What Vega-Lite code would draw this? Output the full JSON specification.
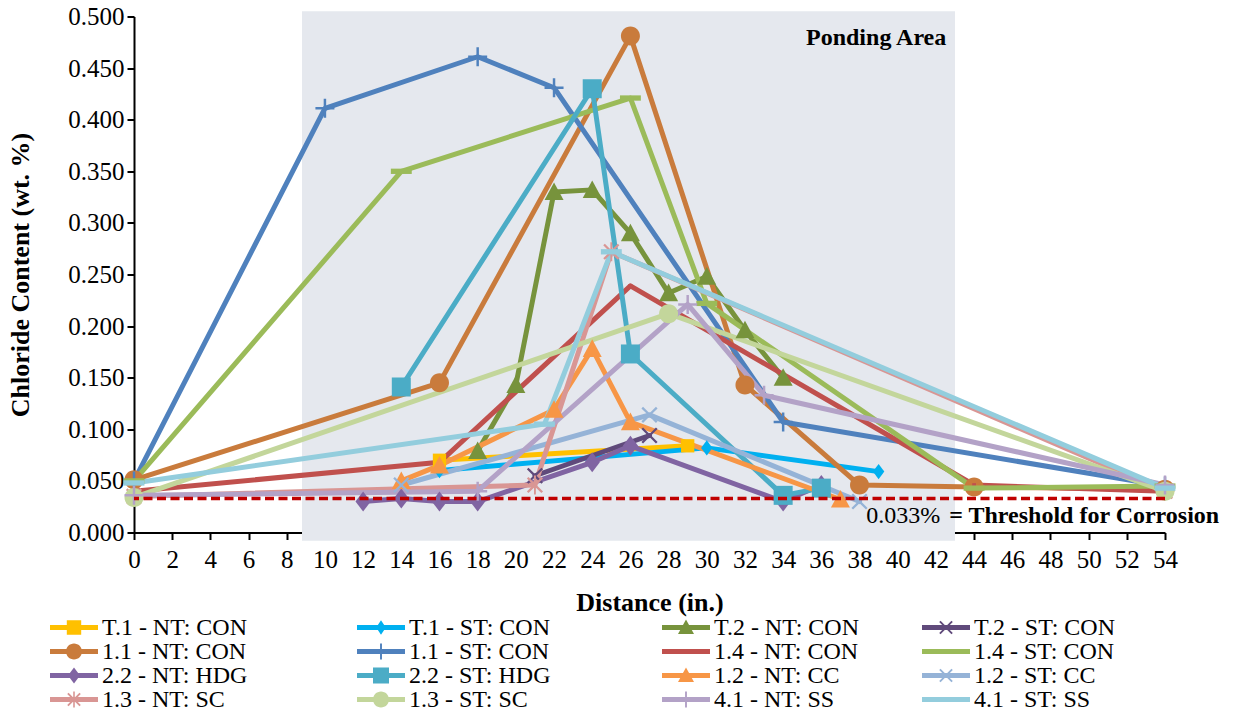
{
  "$schema": "https://vega.github.io/schema/vega-lite/v6.json",
  "width": 1031,
  "height": 516,
  "autosize": "none",
  "padding": {"left": 134, "top": 16.5, "right": 69, "bottom": 186.5},
  "background": "white",
  "config": {
    "font": "Liberation Serif",
    "view": {"stroke": null},
    "axis": {
      "grid": false,
      "domainColor": "#000000",
      "domainWidth": 2,
      "tickColor": "#000000",
      "tickWidth": 2,
      "tickSize": 7,
      "labelColor": "#000000",
      "labelFont": "Liberation Serif",
      "labelFontSize": 25,
      "labelFlush": false,
      "labelOverlap": false,
      "titleFont": "Liberation Serif",
      "titleFontSize": 26,
      "titleFontWeight": "bold",
      "titleColor": "#000000"
    },
    "axisX": {
      "title": "Distance (in.)",
      "values": [0, 2, 4, 6, 8, 10, 12, 14, 16, 18, 20, 22, 24, 26, 28, 30, 32, 34, 36, 38, 40, 42, 44, 46, 48, 50, 52, 54],
      "labelPadding": 8,
      "titleY": 70,
      "titleBaseline": "middle"
    },
    "axisY": {
      "values": [0, 0.05, 0.1, 0.15, 0.2, 0.25, 0.3, 0.35, 0.4, 0.45, 0.5],
      "format": ".3f",
      "labelPadding": 3,
      "titleX": -114,
      "titleBaseline": "middle"
    },
    "legend": {
      "labelFont": "Liberation Serif",
      "labelFontSize": 24,
      "labelColor": "#000000",
      "labelLimit": 0
    }
  },
  "datasets": {
    "chloride": [
      {"series": "T.1 - NT: CON", "distance": 16, "chloride": 0.070},
      {"series": "T.1 - NT: CON", "distance": 29, "chloride": 0.084},
      {"series": "T.1 - ST: CON", "distance": 16, "chloride": 0.060},
      {"series": "T.1 - ST: CON", "distance": 30, "chloride": 0.082},
      {"series": "T.1 - ST: CON", "distance": 39, "chloride": 0.059},
      {"series": "T.2 - NT: CON", "distance": 18, "chloride": 0.079},
      {"series": "T.2 - NT: CON", "distance": 20, "chloride": 0.143},
      {"series": "T.2 - NT: CON", "distance": 22, "chloride": 0.330},
      {"series": "T.2 - NT: CON", "distance": 24, "chloride": 0.332},
      {"series": "T.2 - NT: CON", "distance": 26, "chloride": 0.290},
      {"series": "T.2 - NT: CON", "distance": 28, "chloride": 0.232},
      {"series": "T.2 - NT: CON", "distance": 30, "chloride": 0.248},
      {"series": "T.2 - NT: CON", "distance": 32, "chloride": 0.196},
      {"series": "T.2 - NT: CON", "distance": 34, "chloride": 0.150},
      {"series": "T.2 - ST: CON", "distance": 21, "chloride": 0.055},
      {"series": "T.2 - ST: CON", "distance": 27, "chloride": 0.094},
      {"series": "1.1 - NT: CON", "distance": 0, "chloride": 0.051},
      {"series": "1.1 - NT: CON", "distance": 16, "chloride": 0.145},
      {"series": "1.1 - NT: CON", "distance": 26, "chloride": 0.481},
      {"series": "1.1 - NT: CON", "distance": 32, "chloride": 0.143},
      {"series": "1.1 - NT: CON", "distance": 38, "chloride": 0.046},
      {"series": "1.1 - NT: CON", "distance": 44, "chloride": 0.044},
      {"series": "1.1 - NT: CON", "distance": 54, "chloride": 0.042},
      {"series": "1.1 - ST: CON", "distance": 0, "chloride": 0.050},
      {"series": "1.1 - ST: CON", "distance": 10, "chloride": 0.411},
      {"series": "1.1 - ST: CON", "distance": 18, "chloride": 0.461},
      {"series": "1.1 - ST: CON", "distance": 22, "chloride": 0.431},
      {"series": "1.1 - ST: CON", "distance": 34, "chloride": 0.107},
      {"series": "1.1 - ST: CON", "distance": 54, "chloride": 0.045},
      {"series": "1.4 - NT: CON", "distance": 0, "chloride": 0.040},
      {"series": "1.4 - NT: CON", "distance": 16, "chloride": 0.068},
      {"series": "1.4 - NT: CON", "distance": 26, "chloride": 0.239},
      {"series": "1.4 - NT: CON", "distance": 44, "chloride": 0.046},
      {"series": "1.4 - NT: CON", "distance": 54, "chloride": 0.040},
      {"series": "1.4 - ST: CON", "distance": 0, "chloride": 0.050},
      {"series": "1.4 - ST: CON", "distance": 14, "chloride": 0.350},
      {"series": "1.4 - ST: CON", "distance": 26, "chloride": 0.421},
      {"series": "1.4 - ST: CON", "distance": 30, "chloride": 0.222},
      {"series": "1.4 - ST: CON", "distance": 44, "chloride": 0.043},
      {"series": "1.4 - ST: CON", "distance": 54, "chloride": 0.045},
      {"series": "2.2 - NT: HDG", "distance": 12, "chloride": 0.030},
      {"series": "2.2 - NT: HDG", "distance": 14, "chloride": 0.033},
      {"series": "2.2 - NT: HDG", "distance": 16, "chloride": 0.030},
      {"series": "2.2 - NT: HDG", "distance": 18, "chloride": 0.030},
      {"series": "2.2 - NT: HDG", "distance": 24, "chloride": 0.068},
      {"series": "2.2 - NT: HDG", "distance": 26, "chloride": 0.084},
      {"series": "2.2 - NT: HDG", "distance": 34, "chloride": 0.030},
      {"series": "2.2 - NT: HDG", "distance": 36, "chloride": 0.046},
      {"series": "2.2 - ST: HDG", "distance": 14, "chloride": 0.141},
      {"series": "2.2 - ST: HDG", "distance": 24, "chloride": 0.430},
      {"series": "2.2 - ST: HDG", "distance": 26, "chloride": 0.173},
      {"series": "2.2 - ST: HDG", "distance": 34, "chloride": 0.036},
      {"series": "2.2 - ST: HDG", "distance": 36, "chloride": 0.043},
      {"series": "1.2 - NT: CC", "distance": 14, "chloride": 0.050},
      {"series": "1.2 - NT: CC", "distance": 16, "chloride": 0.065},
      {"series": "1.2 - NT: CC", "distance": 22, "chloride": 0.119},
      {"series": "1.2 - NT: CC", "distance": 24, "chloride": 0.178},
      {"series": "1.2 - NT: CC", "distance": 26, "chloride": 0.107},
      {"series": "1.2 - NT: CC", "distance": 37, "chloride": 0.032},
      {"series": "1.2 - ST: CC", "distance": 14, "chloride": 0.046},
      {"series": "1.2 - ST: CC", "distance": 27, "chloride": 0.114},
      {"series": "1.2 - ST: CC", "distance": 38, "chloride": 0.030},
      {"series": "1.3 - NT: SC", "distance": 0, "chloride": 0.035},
      {"series": "1.3 - NT: SC", "distance": 21, "chloride": 0.046},
      {"series": "1.3 - NT: SC", "distance": 25, "chloride": 0.272},
      {"series": "1.3 - NT: SC", "distance": 54, "chloride": 0.040},
      {"series": "1.3 - ST: SC", "distance": 0, "chloride": 0.034},
      {"series": "1.3 - ST: SC", "distance": 28, "chloride": 0.212},
      {"series": "1.3 - ST: SC", "distance": 54, "chloride": 0.040},
      {"series": "4.1 - NT: SS", "distance": 0, "chloride": 0.036},
      {"series": "4.1 - NT: SS", "distance": 18, "chloride": 0.040},
      {"series": "4.1 - NT: SS", "distance": 29, "chloride": 0.221},
      {"series": "4.1 - NT: SS", "distance": 33, "chloride": 0.133},
      {"series": "4.1 - NT: SS", "distance": 54, "chloride": 0.046},
      {"series": "4.1 - ST: SS", "distance": 0, "chloride": 0.048},
      {"series": "4.1 - ST: SS", "distance": 21.5, "chloride": 0.105},
      {"series": "4.1 - ST: SS", "distance": 25, "chloride": 0.272},
      {"series": "4.1 - ST: SS", "distance": 54, "chloride": 0.043}
    ],
    "ponding": [
      {"distance": 8.8, "distance_end": 43.0, "chloride": -0.008, "chloride_top": 0.505}
    ],
    "threshold": [
      {"chloride": 0.033}
    ],
    "notes": [
      {"distance": 38.87, "chloride": 0.479, "note": "Ponding Area"}
    ]
  },
  "layer": [
    {
      "data": {"name": "ponding"},
      "mark": {"type": "rect", "color": "#E5E8EE"},
      "encoding": {
        "x": {"field": "distance", "type": "quantitative", "scale": {"domain": [0, 54], "nice": false}, "title": "Distance (in.)"},
        "x2": {"field": "distance_end"},
        "y": {"field": "chloride", "type": "quantitative", "scale": {"domain": [0, 0.5], "nice": false}, "title": "Chloride Content (wt. %)"},
        "y2": {"field": "chloride_top"}
      }
    },
    {
      "data": {"name": "chloride"},
      "mark": {"type": "line", "strokeWidth": 5, "strokeJoin": "round", "strokeCap": "round"},
      "encoding": {
        "x": {"field": "distance", "type": "quantitative", "scale": {"domain": [0, 54], "nice": false}, "title": "Distance (in.)"},
        "y": {"field": "chloride", "type": "quantitative", "scale": {"domain": [0, 0.5], "nice": false}, "title": "Chloride Content (wt. %)"},
        "color": {
          "field": "series", "type": "nominal",
          "scale": {
            "domain": ["T.1 - NT: CON", "T.1 - ST: CON", "T.2 - NT: CON", "T.2 - ST: CON", "1.1 - NT: CON", "1.1 - ST: CON", "1.4 - NT: CON", "1.4 - ST: CON", "2.2 - NT: HDG", "2.2 - ST: HDG", "1.2 - NT: CC", "1.2 - ST: CC", "1.3 - NT: SC", "1.3 - ST: SC", "4.1 - NT: SS", "4.1 - ST: SS"],
            "range": ["#FFC000", "#00B0F0", "#77933C", "#604A7B", "#C97B3C", "#4F81BD", "#C0504D", "#9BBB59", "#8064A2", "#4BACC6", "#F79646", "#95B3D7", "#D99694", "#C3D69B", "#B3A2C7", "#93CDDD"]
          },
          "legend": null
        }
      }
    },
    {
      "data": {"name": "chloride"},
      "mark": {"type": "point", "filled": true, "opacity": 1, "size": 361, "strokeWidth": 0},
      "encoding": {
        "x": {"field": "distance", "type": "quantitative", "scale": {"domain": [0, 54], "nice": false}, "title": "Distance (in.)"},
        "y": {"field": "chloride", "type": "quantitative", "scale": {"domain": [0, 0.5], "nice": false}, "title": "Chloride Content (wt. %)"},
        "color": {
          "field": "series", "type": "nominal",
          "scale": {
            "domain": ["T.1 - NT: CON", "T.1 - ST: CON", "T.2 - NT: CON", "T.2 - ST: CON", "1.1 - NT: CON", "1.1 - ST: CON", "1.4 - NT: CON", "1.4 - ST: CON", "2.2 - NT: HDG", "2.2 - ST: HDG", "1.2 - NT: CC", "1.2 - ST: CC", "1.3 - NT: SC", "1.3 - ST: SC", "4.1 - NT: SS", "4.1 - ST: SS"],
            "range": ["#FFC000", "#00B0F0", "#77933C", "#604A7B", "#C97B3C", "#4F81BD", "#C0504D", "#9BBB59", "#8064A2", "#4BACC6", "#F79646", "#95B3D7", "#D99694", "#C3D69B", "#B3A2C7", "#93CDDD"]
          },
          "legend": null
        },
        "shape": {
          "field": "series", "type": "nominal",
          "scale": {
            "domain": ["T.1 - NT: CON", "T.1 - ST: CON", "T.2 - NT: CON", "T.2 - ST: CON", "1.1 - NT: CON", "1.1 - ST: CON", "1.4 - NT: CON", "1.4 - ST: CON", "2.2 - NT: HDG", "2.2 - ST: HDG", "1.2 - NT: CC", "1.2 - ST: CC", "1.3 - NT: SC", "1.3 - ST: SC", "4.1 - NT: SS", "4.1 - ST: SS"],
            "range": [
              "M-0.7,-0.7H0.7V0.7H-0.7Z",
              "M0,-0.8L0.6,0L0,0.8L-0.6,0Z",
              "M0,-1L1,0.85H-1Z",
              "M-0.85,-0.68L-0.68,-0.85L0,-0.17L0.68,-0.85L0.85,-0.68L0.17,0L0.85,0.68L0.68,0.85L0,0.17L-0.68,0.85L-0.85,0.68L-0.17,0Z",
              "M1,0A1,1,0,1,1,-1,0A1,1,0,1,1,1,0Z",
              "M-0.13,-1H0.13V-0.13H1V0.13H0.13V1H-0.13V0.13H-1V-0.13H-0.13Z",
              "M-0.2,-0.2H0.2V0.2H-0.2Z",
              "M-1.1,-0.28H1.1V0.28H-1.1Z",
              "M0,-1.05L0.8,0L0,1.05L-0.8,0Z",
              "M-1,-1H1V1H-1Z",
              "M0,-1L1,0.85H-1Z",
              "M-0.85,-0.68L-0.68,-0.85L0,-0.17L0.68,-0.85L0.85,-0.68L0.17,0L0.85,0.68L0.68,0.85L0,0.17L-0.68,0.85L-0.85,0.68L-0.17,0Z",
              "M-0.85,-0.68L-0.68,-0.85L0,-0.17L0.68,-0.85L0.85,-0.68L0.17,0L0.85,0.68L0.68,0.85L0,0.17L-0.68,0.85L-0.85,0.68L-0.17,0Z M-0.1,-1H0.1V1H-0.1Z",
              "M1,0A1,1,0,1,1,-1,0A1,1,0,1,1,1,0Z",
              "M-0.13,-1H0.13V-0.13H1V0.13H0.13V1H-0.13V0.13H-1V-0.13H-0.13Z",
              "M-1.1,-0.28H1.1V0.28H-1.1Z"
            ]
          },
          "legend": null
        }
      }
    },
    {
      "data": {"name": "threshold"},
      "mark": {"type": "rule", "color": "#C00000", "strokeWidth": 3.5, "strokeDash": [9, 4.5]},
      "encoding": {
        "y": {"field": "chloride", "type": "quantitative", "scale": {"domain": [0, 0.5], "nice": false}, "title": "Chloride Content (wt. %)"}
      }
    },
    {
      "data": {"name": "notes"},
      "mark": {"type": "text", "font": "Liberation Serif", "fontSize": 24, "fontWeight": "bold", "color": "#000000", "align": "center", "baseline": "middle"},
      "encoding": {
        "x": {"field": "distance", "type": "quantitative", "scale": {"domain": [0, 54], "nice": false}, "title": "Distance (in.)"},
        "y": {"field": "chloride", "type": "quantitative", "scale": {"domain": [0, 0.5], "nice": false}, "title": "Chloride Content (wt. %)"},
        "text": {"field": "note"}
      }
    },
    {
      "data": {"name": "threshold"},
      "mark": {"type": "text", "text": "0.033%", "font": "Liberation Serif", "fontSize": 24, "color": "#000000", "align": "left", "baseline": "alphabetic", "dy": 25},
      "encoding": {
        "x": {"datum": 38.35, "type": "quantitative", "scale": {"domain": [0, 54], "nice": false}, "title": "Distance (in.)"},
        "y": {"field": "chloride", "type": "quantitative", "scale": {"domain": [0, 0.5], "nice": false}, "title": "Chloride Content (wt. %)"}
      }
    },
    {
      "data": {"name": "threshold"},
      "mark": {"type": "text", "text": "= Threshold for Corrosion", "font": "Liberation Serif", "fontSize": 24, "fontWeight": "bold", "color": "#000000", "align": "left", "baseline": "alphabetic", "dy": 25},
      "encoding": {
        "x": {"datum": 42.7, "type": "quantitative", "scale": {"domain": [0, 54], "nice": false}, "title": "Distance (in.)"},
        "y": {"field": "chloride", "type": "quantitative", "scale": {"domain": [0, 0.5], "nice": false}, "title": "Chloride Content (wt. %)"}
      }
    },
    {
      "data": {"name": "chloride"},
      "transform": [{"filter": {"field": "series", "oneOf": ["T.1 - NT: CON", "T.1 - ST: CON", "1.1 - NT: CON", "1.1 - ST: CON", "2.2 - NT: HDG", "2.2 - ST: HDG", "1.3 - NT: SC", "1.3 - ST: SC"]}}],
      "mark": {"type": "point", "filled": true, "opacity": 0, "size": 256},
      "encoding": {
        "x": {"field": "distance", "type": "quantitative", "scale": {"domain": [0, 54], "nice": false}, "title": "Distance (in.)"},
        "y": {"field": "chloride", "type": "quantitative", "scale": {"domain": [0, 0.5], "nice": false}, "title": "Chloride Content (wt. %)"},
        "color": {
          "field": "series", "type": "nominal",
          "scale": {
            "domain": ["T.1 - NT: CON", "T.1 - ST: CON", "1.1 - NT: CON", "1.1 - ST: CON", "2.2 - NT: HDG", "2.2 - ST: HDG", "1.3 - NT: SC", "1.3 - ST: SC"],
            "range": ["#FFC000", "#00B0F0", "#C97B3C", "#4F81BD", "#8064A2", "#4BACC6", "#D99694", "#C3D69B"]
          },
          "legend": {"title": null, "orient": "none", "direction": "horizontal", "legendX": -72, "legendY": 599, "columns": 2, "columnPadding": 109, "rowPadding": 0, "symbolSize": 256, "symbolStrokeWidth": 0, "symbolOpacity": 1, "labelOffset": 16, "padding": 0}
        },
        "shape": {
          "field": "series", "type": "nominal",
          "scale": {
            "domain": ["T.1 - NT: CON", "T.1 - ST: CON", "1.1 - NT: CON", "1.1 - ST: CON", "2.2 - NT: HDG", "2.2 - ST: HDG", "1.3 - NT: SC", "1.3 - ST: SC"],
            "range": [
              "M-3,-0.3H3V0.3H-3Z M-0.9,-0.9H0.9V0.9H-0.9Z",
              "M-3,-0.3H3V0.3H-3Z M0,-0.9L0.6,0L0,0.9L-0.6,0Z",
              "M-3,-0.3H3V0.3H-3Z M1,0A1,1,0,1,1,-1,0A1,1,0,1,1,1,0Z",
              "M-3,-0.3H3V0.3H-3Z M-0.12,-1H0.12V-0.12H1V0.12H0.12V1H-0.12V0.12H-1V-0.12H-0.12Z",
              "M-3,-0.3H3V0.3H-3Z M0,-1L0.75,0L0,1L-0.75,0Z",
              "M-3,-0.3H3V0.3H-3Z M-1,-1H1V1H-1Z",
              "M-3,-0.3H3V0.3H-3Z M-0.85,-0.68L-0.68,-0.85L0,-0.17L0.68,-0.85L0.85,-0.68L0.17,0L0.85,0.68L0.68,0.85L0,0.17L-0.68,0.85L-0.85,0.68L-0.17,0Z M-0.1,-1H0.1V1H-0.1Z",
              "M-3,-0.3H3V0.3H-3Z M1,0A1,1,0,1,1,-1,0A1,1,0,1,1,1,0Z"
            ]
          },
          "legend": {"title": null, "orient": "none", "direction": "horizontal", "legendX": -72, "legendY": 599, "columns": 2, "columnPadding": 109, "rowPadding": 0, "symbolSize": 256, "symbolStrokeWidth": 0, "symbolOpacity": 1, "labelOffset": 16, "padding": 0}
        }
      }
    },
    {
      "data": {"name": "chloride"},
      "transform": [{"filter": {"field": "series", "oneOf": ["T.2 - NT: CON", "T.2 - ST: CON", "1.4 - NT: CON", "1.4 - ST: CON", "1.2 - NT: CC", "1.2 - ST: CC", "4.1 - NT: SS", "4.1 - ST: SS"]}}],
      "mark": {"type": "point", "filled": true, "opacity": 0, "size": 256},
      "encoding": {
        "x": {"field": "distance", "type": "quantitative", "scale": {"domain": [0, 54], "nice": false}, "title": "Distance (in.)"},
        "y": {"field": "chloride", "type": "quantitative", "scale": {"domain": [0, 0.5], "nice": false}, "title": "Chloride Content (wt. %)"},
        "color": {
          "field": "series", "type": "nominal",
          "scale": {
            "domain": ["T.2 - NT: CON", "T.2 - ST: CON", "1.4 - NT: CON", "1.4 - ST: CON", "1.2 - NT: CC", "1.2 - ST: CC", "4.1 - NT: SS", "4.1 - ST: SS"],
            "range": ["#77933C", "#604A7B", "#C0504D", "#9BBB59", "#F79646", "#95B3D7", "#B3A2C7", "#93CDDD"]
          },
          "legend": {"title": null, "orient": "none", "direction": "horizontal", "legendX": 540, "legendY": 599, "columns": 2, "columnPadding": 62, "rowPadding": 0, "symbolSize": 256, "symbolStrokeWidth": 0, "symbolOpacity": 1, "labelOffset": 16, "padding": 0}
        },
        "shape": {
          "field": "series", "type": "nominal",
          "scale": {
            "domain": ["T.2 - NT: CON", "T.2 - ST: CON", "1.4 - NT: CON", "1.4 - ST: CON", "1.2 - NT: CC", "1.2 - ST: CC", "4.1 - NT: SS", "4.1 - ST: SS"],
            "range": [
              "M-3,-0.3H3V0.3H-3Z M0,-1L1,0.8H-1Z",
              "M-3,-0.3H3V0.3H-3Z M-0.85,-0.68L-0.68,-0.85L0,-0.17L0.68,-0.85L0.85,-0.68L0.17,0L0.85,0.68L0.68,0.85L0,0.17L-0.68,0.85L-0.85,0.68L-0.17,0Z",
              "M-3,-0.3H3V0.3H-3Z",
              "M-3,-0.3H3V0.3H-3Z",
              "M-3,-0.3H3V0.3H-3Z M0,-1L1,0.8H-1Z",
              "M-3,-0.3H3V0.3H-3Z M-0.85,-0.68L-0.68,-0.85L0,-0.17L0.68,-0.85L0.85,-0.68L0.17,0L0.85,0.68L0.68,0.85L0,0.17L-0.68,0.85L-0.85,0.68L-0.17,0Z",
              "M-3,-0.3H3V0.3H-3Z M-0.12,-1H0.12V-0.12H1V0.12H0.12V1H-0.12V0.12H-1V-0.12H-0.12Z",
              "M-3,-0.3H3V0.3H-3Z"
            ]
          },
          "legend": {"title": null, "orient": "none", "direction": "horizontal", "legendX": 540, "legendY": 599, "columns": 2, "columnPadding": 62, "rowPadding": 0, "symbolSize": 256, "symbolStrokeWidth": 0, "symbolOpacity": 1, "labelOffset": 16, "padding": 0}
        }
      }
    }
  ],
  "resolve": {"scale": {"color": "independent", "shape": "independent"}}
}
